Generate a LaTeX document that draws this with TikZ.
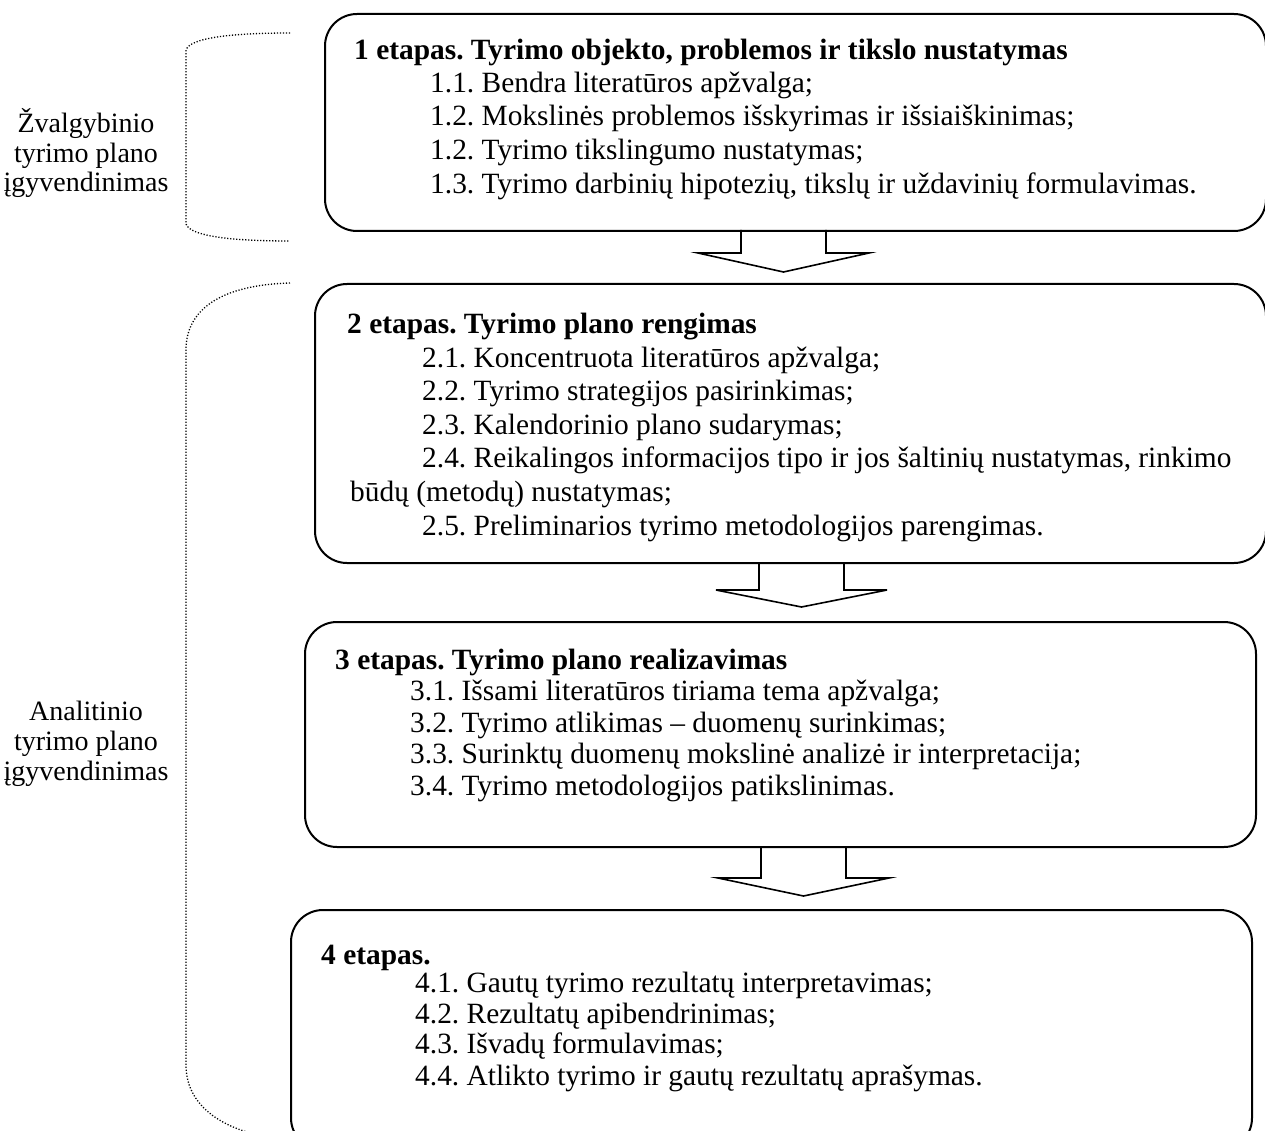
\documentclass[tikz,border=0pt]{standalone}
\usepackage{fontspec}
\setmainfont{Liberation Serif}
\usetikzlibrary{calc}
\begin{document}
\frenchspacing
\begin{tikzpicture}[x=1pt,y=-1pt,
  stagebox/.style={draw=black,line width=2pt,rounded corners=32pt},
  txt/.style={inner sep=0pt,anchor=base west,font=\fontsize{29.4}{33}\selectfont},
  ttl/.style={txt,font=\fontsize{29.4}{33}\selectfont\bfseries},
  side/.style={inner sep=0pt,anchor=base,font=\fontsize{28}{32}\selectfont},
  blockarr/.style={draw=black,line width=1.6pt,line join=miter},
  brace/.style={draw=black,line width=1.3pt,dash pattern=on 1.2pt off 1.8pt}]
\useasboundingbox (0,0) rectangle (1265,1131);

% boxes
\node[stagebox,minimum width=941pt,minimum height=217pt,anchor=north west] (b1) at (324,13) {};
\node[stagebox,minimum width=951pt,minimum height=279pt,anchor=north west] (b2) at (314,283) {};
\node[stagebox,minimum width=951pt,minimum height=225pt,anchor=north west] (b3) at (304,621) {};
\node[stagebox,minimum width=961pt,minimum height=240pt,anchor=north west] (b4) at (290,909) {};

% box 1 text
\node[ttl] (t1) at (354,60) {1 etapas. Tyrimo objekto, problemos ir tikslo nustatymas};
\node[txt] (t11) at (430,93) {1.1. Bendra literatūros apžvalga;};
\node[txt] (t12) at (430,126) {1.2. Mokslinės problemos išskyrimas ir išsiaiškinimas;};
\node[txt] (t13) at (430,160) {1.2. Tyrimo tikslingumo nustatymas;};
\node[txt] (t14) at (430,194) {1.3. Tyrimo darbinių hipotezių, tikslų ir uždavinių formulavimas.};

% box 2 text
\node[ttl] (t2) at (347,333) {2 etapas. Tyrimo plano rengimas};
\node[txt] (t21) at (422,367) {2.1. Koncentruota literatūros apžvalga;};
\node[txt] (t22) at (422,400) {2.2. Tyrimo strategijos pasirinkimas;};
\node[txt] (t23) at (422,434) {2.3. Kalendorinio plano sudarymas;};
\node[txt] (t24) at (422,467) {2.4. Reikalingos informacijos tipo ir jos šaltinių nustatymas, rinkimo};
\node[txt] (t24b) at (350,501) {būdų (metodų) nustatymas;};
\node[txt] (t25) at (422,535) {2.5. Preliminarios tyrimo metodologijos parengimas.};

% box 3 text
\node[ttl] (t3) at (335,669) {3 etapas. Tyrimo plano realizavimas};
\node[txt] (t31) at (410,700) {3.1. Išsami literatūros tiriama tema apžvalga;};
\node[txt] (t32) at (410,732) {3.2. Tyrimo atlikimas – duomenų surinkimas;};
\node[txt] (t33) at (410,763) {3.3. Surinktų duomenų mokslinė analizė ir interpretacija;};
\node[txt] (t34) at (410,795) {3.4. Tyrimo metodologijos patikslinimas.};

% box 4 text
\node[ttl] (t4) at (321,964) {4 etapas.};
\node[txt] (t41) at (415,992) {4.1. Gautų tyrimo rezultatų interpretavimas;};
\node[txt] (t42) at (415,1023) {4.2. Rezultatų apibendrinimas;};
\node[txt] (t43) at (415,1053) {4.3. Išvadų formulavimas;};
\node[txt] (t44) at (415,1085) {4.4. Atlikto tyrimo ir gautų rezultatų aprašymas.};

% side labels
\node[side] (s1a) at (86,133) {Žvalgybinio};
\node[side] (s1b) at (86,163) {tyrimo plano};
\node[side] (s1c) at (86,192) {įgyvendinimas};
\node[side] (s2a) at (86,720) {Analitinio};
\node[side] (s2b) at (86,750) {tyrimo plano};
\node[side] (s2c) at (86,780) {įgyvendinimas};

% block arrows
\coordinate (a1) at (783.5,230);
\coordinate (a2) at (801.5,562);
\coordinate (a3) at (803.5,846);
\draw[blockarr] ($(a1)+(-42.5,0)$) -- ++(0,23) -- ++(-43,0) -- (783.5,272) -- (869,253) -- ++(-43,0) -- ++(0,-23);
\draw[blockarr] ($(a2)+(-42.5,0)$) -- ++(0,28) -- ++(-43,0) -- (801.5,607) -- (887,590) -- ++(-43,0) -- ++(0,-28);
\draw[blockarr] ($(a3)+(-42.5,0)$) -- ++(0,32) -- ++(-43,0) -- (803.5,896) -- (889,878) -- ++(-43,0) -- ++(0,-32);

% dotted braces
\draw[brace] (290,33) .. controls (230,33) and (190,38) .. (186,50) -- (186,224) .. controls (190,236) and (230,241) .. (290,241);
\draw[brace] (290,283) .. controls (220,285) and (186,310) .. (186,350) -- (186,1065) .. controls (186,1110) and (230,1135) .. (290,1140);
\end{tikzpicture}
\end{document}
